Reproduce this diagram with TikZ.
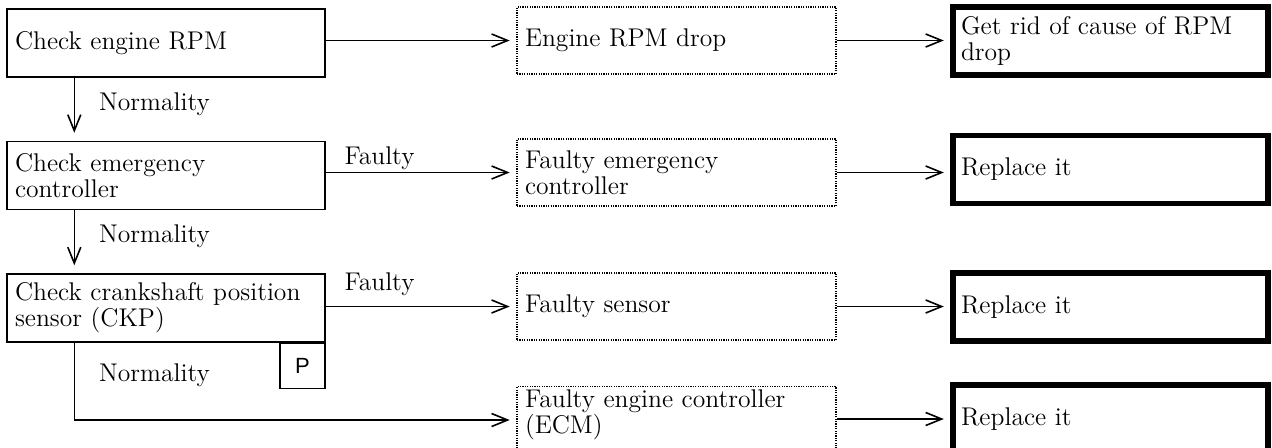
\documentclass[tikz,border=0pt]{standalone}
\usepackage{fontspec}
\newfontfamily\pmarkfont{Liberation Sans}
\usetikzlibrary{arrows.meta,positioning}

\begin{document}
\begin{tikzpicture}[x=0.5pt,y=-0.5pt,
  txt/.style={font=\fontsize{12.8pt}{13pt}\selectfont},
  check/.style={txt,draw,line width=0.7pt,text width=151pt,minimum height=34pt,inner xsep=4pt,inner ysep=0pt,align=left},
  cause/.style={txt,draw,line width=0.7pt,dash pattern=on 0.6pt off 0.6pt,text width=151.5pt,minimum height=33.5pt,inner xsep=4pt,inner ysep=0pt,align=left},
  remedy/.style={txt,draw,line width=2.6pt,text width=149.5pt,minimum height=34pt,inner xsep=4pt,inner ysep=0pt,align=left},
  pbox/.style={draw,line width=0.7pt,minimum size=22.5pt,inner sep=0pt,font=\pmarkfont\fontsize{11pt}{13pt}\selectfont},
  lbl/.style={txt,inner sep=0pt},
  arr/.style={line width=0.8pt,-{Straight Barb[length=8pt,width=6.5pt,line width=0.8pt]}}]
  \useasboundingbox(0,0)rectangle(1272,447);
  % checks
  \node[check](rpm)at(166,43){Check engine RPM};
  \node[check](emc)at(166,175.5){Check emergency\\controller};
  \node[check](ckp)at(166,308){Check crankshaft position\\sensor (CKP)};
  \node[pbox,anchor=north east](pmark)at(ckp.south east){P};
  % causes
  \node[cause](drop)at(676.5,40.5){Engine RPM drop};
  \node[cause](fec)at(676.5,172.5){Faulty emergency\\controller};
  \node[cause](fsn)at(676.5,306.5){Faulty sensor};
  \node[cause](fecm)at(676.5,420){\parbox[c][30pt][t]{151.5pt}{Faulty engine controller\\(ECM)}};
  % remedies
  \node[remedy](rm1)at(1110.5,41){Get rid of cause of RPM\\drop};
  \node[remedy](rm2)at(1110.5,169.5){Replace it};
  \node[remedy](rm3)at(1110.5,307){Replace it};
  \node[remedy](rm4)at(1110.5,419){Replace it};
  % normality path
  \draw[arr,shorten >=4pt]([xshift=34pt]rpm.south west)--([xshift=34pt]emc.north west)
    node[lbl,pos=0.42,right=12pt]{Normality};
  \draw[arr,shorten >=4pt]([xshift=34pt]emc.south west)--([xshift=34pt]ckp.north west)
    node[lbl,pos=0.42,right=12pt]{Normality};
  \draw[arr,shorten >=3.3pt]([xshift=34pt]ckp.south west)|-(fecm.west)
    node[lbl,pos=0.21,right=12pt]{Normality};
  % faulty path
  \draw[arr,shorten >=3.3pt](rpm.east|-drop.west)--(drop.west);
  \draw[arr,shorten >=3.3pt](emc.east|-fec.west)--(fec.west)
    node[lbl,pos=0,above right=1pt and 9pt]{Faulty};
  \draw[arr,shorten >=3.3pt](ckp.east|-fsn.west)--(fsn.west)
    node[lbl,pos=0,above right=5pt and 9pt]{Faulty};
  \draw[arr,shorten >=3.3pt](drop.east)--(drop.east-|rm1.west);
  \draw[arr,shorten >=3.3pt](fec.east)--(fec.east-|rm2.west);
  \draw[arr,shorten >=3.3pt](fsn.east)--(fsn.east-|rm3.west);
  \draw[arr,shorten >=3.3pt](fecm.east|-rm4.west)--(rm4.west);
\end{tikzpicture}
\end{document}
